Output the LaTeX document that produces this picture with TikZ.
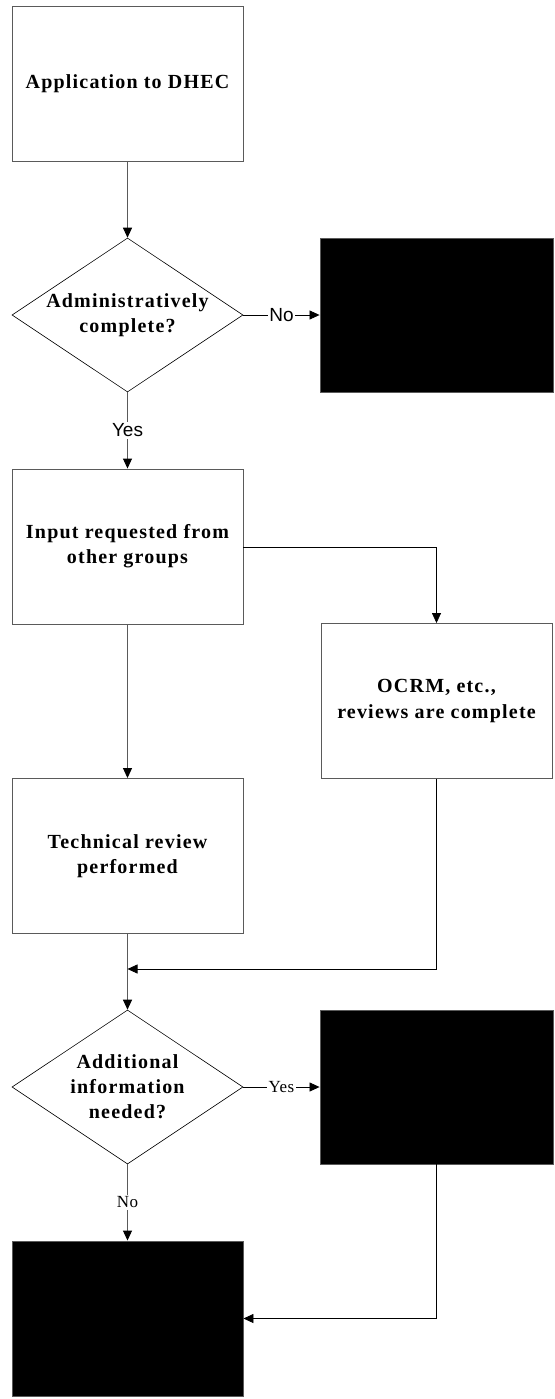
\documentclass[tikz,border=0pt]{standalone}
\usepackage{fontspec}
\setmainfont{Liberation Serif}[LetterSpace=6]
\newfontfamily\labelsans{Liberation Sans}
\newfontfamily\labelserif{Liberation Serif}[LetterSpace=3]
\usetikzlibrary{shapes.geometric,arrows.meta}
\definecolor{edgegray}{RGB}{90,90,90}
\tikzset{
  procbox/.style={draw=edgegray, line width=0.9pt, rectangle, minimum width=231pt, minimum height=155pt, inner sep=0pt, align=center,
    font=\fontsize{20}{25}\selectfont\bfseries},
  hiddenbox/.style={draw=edgegray, fill=black, line width=0.9pt, rectangle, minimum width=233pt, minimum height=154pt, inner sep=0pt},
  decision/.style={draw=black, line width=0.6pt, diamond, aspect=1.5, minimum width=231pt, minimum height=154pt, inner sep=0pt, align=center,
    font=\fontsize{20}{25}\selectfont\bfseries},
  flow/.style={draw=black, line width=0.7pt, -{Triangle[length=10pt,width=9pt]}},
  grayflow/.style={draw=edgegray, line width=1pt, -{Triangle[length=10pt,width=9pt,color=black]}},
  sanslabel/.style={fill=white, inner sep=1.5pt, font=\labelsans\fontsize{19}{20}\selectfont},
  seriflabel/.style={fill=white, inner sep=1.5pt, font=\labelserif\fontsize{17}{17}\selectfont}
}
\begin{document}
\begin{tikzpicture}[x=1pt,y=-1pt]
\useasboundingbox (0,0) rectangle (554,1399);
% nodes
\node[procbox] (app) at (127.5,83.5) {Application to DHEC};
\node[decision] (d1) at (127.5,315) {Administratively\\complete?};
\node[hiddenbox] (h1) at (436.5,315) {};
\node[procbox] (input) at (127.5,546.5) {Input requested from\\other groups};
\node[procbox] (ocrm) at (436.5,701) {OCRM, etc.,\\reviews are complete};
\node[procbox] (tech) at (127.5,856) {Technical review\\performed};
\node[decision] (d2) at (127.5,1087) {Additional\\information\\needed?};
\node[hiddenbox] (h2) at (436.5,1087) {};
\node[hiddenbox, minimum width=231pt, minimum height=155pt] (h3) at (127.5,1318.5) {};
\coordinate (join) at (127.5,969);
% connectors
\draw[grayflow] (app.south) -- (d1.north);
\draw[flow] (d1.east) -- node[sanslabel] {No} (h1.west);
\draw[grayflow] (d1.south) -- node[sanslabel] {Yes} (input.north);
\draw[flow] (input.east |- 0,547) -- (ocrm.north |- 0,547) -- (ocrm.north);
\draw[grayflow] (input.south) -- (tech.north);
\draw[grayflow] (tech.south) -- (d2.north);
\draw[flow] (ocrm.south) |- (join);
\draw[flow] (d2.east) -- node[seriflabel] {Yes} (h2.west);
\draw[grayflow] (d2.south) -- node[seriflabel] {No} (h3.north);
\draw[flow] (h2.south) |- (h3.east);
\end{tikzpicture}
\end{document}
